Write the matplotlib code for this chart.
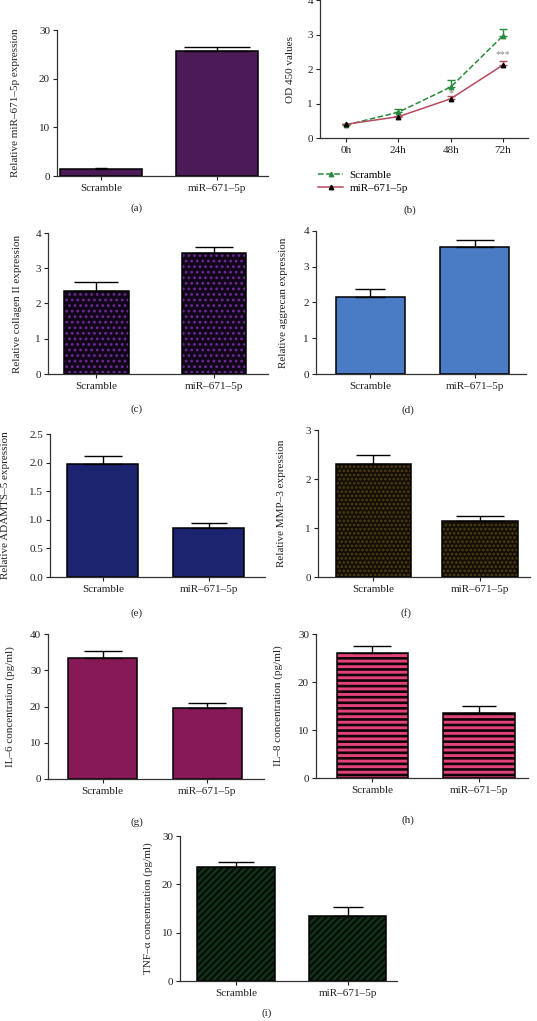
import matplotlib

matplotlib.use("Agg")
import matplotlib.pyplot as plt
import numpy as np

plt.rcParams["font.family"] = ["Liberation Serif", "DejaVu Serif"]
plt.rcParams["axes.unicode_minus"] = False

W, H = 537, 1021
INK = "#222222"
SPINE = "#333333"
FS = 8

groups = ["Scramble", "miR\u2013671\u20135p"]
hours = ["0h", "24h", "48h", "72h"]

# (a) miR-671-5p expression
mir_expr = [1.45, 25.7]
mir_expr_err = [0.15, 0.8]

# (b) OD 450 time course
od_scramble = [0.38, 0.75, 1.48, 2.97]
od_scramble_err = [0.02, 0.08, 0.20, 0.20]
od_mir = [0.40, 0.62, 1.14, 2.12]
od_mir_err = [0.02, 0.03, 0.08, 0.11]

# (c)-(f) relative expression
collagen = [2.36, 3.42]
collagen_err = [0.24, 0.18]
aggrecan = [2.15, 3.56]
aggrecan_err = [0.23, 0.20]
adamts5 = [1.97, 0.86]
adamts5_err = [0.15, 0.09]
mmp3 = [2.30, 1.14]
mmp3_err = [0.18, 0.11]

# (g)-(i) cytokine concentrations
il6 = [33.5, 19.6]
il6_err = [1.9, 1.3]
il8 = [26.0, 13.5]
il8_err = [1.5, 1.4]
tnfa = [23.5, 13.5]
tnfa_err = [1.2, 1.9]

fig = plt.figure(figsize=(W / 100, H / 100), dpi=100, facecolor="white")


def px_axes(left, top, right, bottom):
    return fig.add_axes([left / W, 1 - bottom / H, (right - left) / W, (bottom - top) / H])


def style_axes(ax):
    for side in ("top", "right"):
        ax.spines[side].set_visible(False)
    for side in ("left", "bottom"):
        ax.spines[side].set_color(SPINE)
        ax.spines[side].set_linewidth(0.9)
    ax.tick_params(direction="out", length=3, width=0.8, labelsize=FS, colors=INK, pad=2)
    ax.tick_params(axis="x", pad=3)


def panel_label(text, x, y):
    fig.text(x / W, 1 - y / H, text, ha="center", va="center", fontsize=FS, color=INK)


def bar_panel(rect, values, errs, ylim, yticks, ylabel, label_px, xlim, width,
              color, hatch=None, hatch_color=None, hatch_lw=1.0, caps=(13, 13), fmt=None):
    left, top, right, bottom = rect
    ax = px_axes(left, top, right, bottom)
    style_axes(ax)
    x = np.arange(len(values))
    if hatch:
        bars = ax.bar(x, values, width=width, color=color, edgecolor=hatch_color,
                      linewidth=0, hatch=hatch, zorder=2)
        for b in bars:
            if hasattr(b, "set_hatch_linewidth"):
                b.set_hatch_linewidth(hatch_lw)
        ax.bar(x, values, width=width, fill=False, edgecolor="black", linewidth=1.1, zorder=3)
    else:
        ax.bar(x, values, width=width, color=color, edgecolor="black", linewidth=1.1, zorder=2)
    for xi, v, e, c in zip(x, values, errs, caps):
        ax.errorbar(xi, v, yerr=[[0], [e]], fmt="none", ecolor="black", elinewidth=1.0,
                    capsize=c, capthick=1.0, zorder=4)
    ax.set_xlim(*xlim)
    ax.set_ylim(*ylim)
    ax.set_yticks(yticks)
    if fmt:
        ax.set_yticklabels([fmt % t for t in yticks])
    ax.set_xticks(x)
    ax.set_xticklabels(groups)
    ax.set_ylabel(ylabel, fontsize=FS, color=INK)
    ax.yaxis.set_label_coords((label_px - left) / (right - left), 0.5)
    return ax


# (a)
bar_panel((57, 30, 268, 176), mir_expr, mir_expr_err, (0, 30), [0, 10, 20, 30],
          "Relative miR\u2013671\u20135p expression", 20, (-0.38, 1.44), 0.7,
          "#4d1a58", caps=(4, 24))
panel_label("(a)", 137, 208)

# (b)
axb = px_axes(320, 0.4, 528, 138)
style_axes(axb)
xh = np.arange(len(hours))
green = "#2a8a3c"
red = "#b84a60"
axb.errorbar(xh, od_scramble, yerr=[np.zeros(4), od_scramble_err], fmt="none",
             ecolor=green, elinewidth=1.0, capsize=3, capthick=1.0, zorder=3)
axb.errorbar(xh, od_mir, yerr=[np.zeros(4), od_mir_err], fmt="none",
             ecolor=red, elinewidth=1.0, capsize=3, capthick=1.0, zorder=3)
axb.plot(xh, od_scramble, ls="--", color=green, lw=1.1, marker="^", ms=3.2,
         mfc=green, mec=green, label="Scramble", zorder=4)
axb.plot(xh, od_mir, ls="-", color=red, lw=1.1, marker="^", ms=3.2,
         mfc="black", mec="black", label="miR\u2013671\u20135p", zorder=4)
axb.text(3, 2.42, "***", ha="center", va="center", fontsize=7, color="#888888")
axb.text(2, 1.30, "*", ha="center", va="center", fontsize=7, color="#888888")
axb.set_xlim(-0.5, 3.48)
axb.set_ylim(0, 4)
axb.set_yticks([0, 1, 2, 3, 4])
axb.set_xticks(xh)
axb.set_xticklabels(hours)
axb.set_ylabel("OD 450 values", fontsize=FS, color=INK)
axb.yaxis.set_label_coords((295 - 320) / (528 - 320), 0.5)
axb.legend(loc="upper left", bbox_to_anchor=(314 / W, 1 - 166 / H), bbox_transform=fig.transFigure,
           frameon=False, fontsize=FS, handlelength=2.2, handletextpad=0.6, labelspacing=0.3,
           borderaxespad=0)
panel_label("(b)", 410, 210)

# (c)
bar_panel((48, 233, 268, 374), collagen, collagen_err, (0, 4), [0, 1, 2, 3, 4],
          "Relative collagen II expression", 22, (-0.41, 1.46), 0.55,
          "#12061a", hatch="...", hatch_color="#6c2a94", hatch_lw=1.2, caps=(16, 14))
panel_label("(c)", 137, 409)

# (d)
bar_panel((316, 231, 526, 374), aggrecan, aggrecan_err, (0, 4), [0, 1, 2, 3, 4],
          "Relative aggrecan expression", 288, (-0.52, 1.49), 0.66,
          "#4a7cc6", caps=(11, 14))
panel_label("(d)", 408, 410)

# (e)
bar_panel((50, 434, 265, 577), adamts5, adamts5_err, (0, 2.5), [0, 0.5, 1.0, 1.5, 2.0, 2.5],
          "Relative ADAMTS\u20135 expression", 10, (-0.5, 1.53), 0.67,
          "#1c2470", caps=(14, 13), fmt="%.1f")
panel_label("(e)", 137, 613)

# (f)
bar_panel((318, 430, 530, 577), mmp3, mmp3_err, (0, 3), [0, 1, 2, 3],
          "Relative MMP\u20133 expression", 286, (-0.52, 1.47), 0.71,
          "#140e05", hatch="....", hatch_color="#4e4012", hatch_lw=1.3, caps=(12, 17))
panel_label("(f)", 406, 613)

# (g)
bar_panel((48, 634, 264, 779), il6, il6_err, (0, 40), [0, 10, 20, 30, 40],
          "IL\u20136 concentration (pg/ml)", 15, (-0.52, 1.54), 0.66,
          "#871a56", caps=(14, 14))
panel_label("(g)", 137, 822)

# (h)
bar_panel((316, 634, 528, 778), il8, il8_err, (0, 30), [0, 10, 20, 30],
          "IL\u20138 concentration (pg/ml)", 283, (-0.53, 1.46), 0.67,
          "#e0427a", hatch="---", hatch_color="#120208", hatch_lw=1.9, caps=(14, 12))
panel_label("(h)", 408, 820)

# (i)
bar_panel((180, 836, 397, 981), tnfa, tnfa_err, (0, 30), [0, 10, 20, 30],
          "TNF\u2013\u03b1 concentration (pg/ml)", 153, (-0.5, 1.44), 0.69,
          "#080e09", hatch="/////", hatch_color="#123519", hatch_lw=1.6, caps=(13, 11))
panel_label("(i)", 267, 1013)

fig.savefig("out.png", dpi=100, facecolor="white")
